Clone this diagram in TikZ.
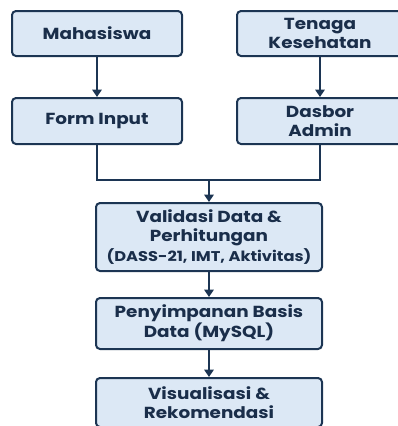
\documentclass[tikz,border=0pt]{standalone}
\usepackage{fontspec}
\setmainfont{Poppins}[FakeStretch=1.15]
\usetikzlibrary{arrows.meta}
\definecolor{boxfill}{HTML}{DCE8F5}
\definecolor{boxline}{HTML}{1C3553}
\definecolor{boxtext}{HTML}{1A2E4A}
\begin{document}
\begin{tikzpicture}[x=0.75pt,y=-0.75pt,>={Triangle[width=7pt,length=5.5pt]},
		box/.style={draw=boxline,fill=boxfill,line width=1.5pt,rounded corners=3pt,align=center,text=boxtext,
			font=\bfseries\fontsize{12}{13.8}\selectfont,inner sep=0pt},
		link/.style={draw=boxline,line width=1.5pt}]
		\clip (0,0) rectangle (398,426);
		\node[box,minimum width=127.5pt,minimum height=33.75pt] (mhs) at (97,33.5) {Mahasiswa};
		\node[box,minimum width=124.5pt,minimum height=33.75pt] (nakes) at (320,33.5) {Tenaga\\Kesehatan};
		\node[box,minimum width=127.5pt,minimum height=34.5pt] (form) at (97,121) {Form Input};
		\node[box,minimum width=124.5pt,minimum height=34.5pt] (dasbor) at (320,121) {Dasbor\\Admin};
		\node[box,minimum width=169.5pt,minimum height=51pt] (valid) at (209,237) {Validasi Data \&\\Perhitungan\\[1pt]
			{\fontsize{10.6}{12}\selectfont (DASS-21, IMT, Aktivitas)}};
		\node[box,minimum width=169.5pt,minimum height=38.25pt] (simpan) at (209,323.5) {Penyimpanan Basis\\Data (MySQL)};
		\node[box,minimum width=169.5pt,minimum height=36.75pt] (visual) at (209,402.5) {Visualisasi \&\\Rekomendasi};
		\coordinate (join) at (209,180);
		\draw[link,->] (mhs) -- (form);
		\draw[link,->] (nakes) -- (dasbor);
		\draw[link] (form.south) |- (join) -| (dasbor.south);
		\draw[link,->] (join) -- (valid);
		\draw[link,->] (valid) -- (simpan);
		\draw[link,->] (simpan) -- (visual);
	\end{tikzpicture}
\end{document}
